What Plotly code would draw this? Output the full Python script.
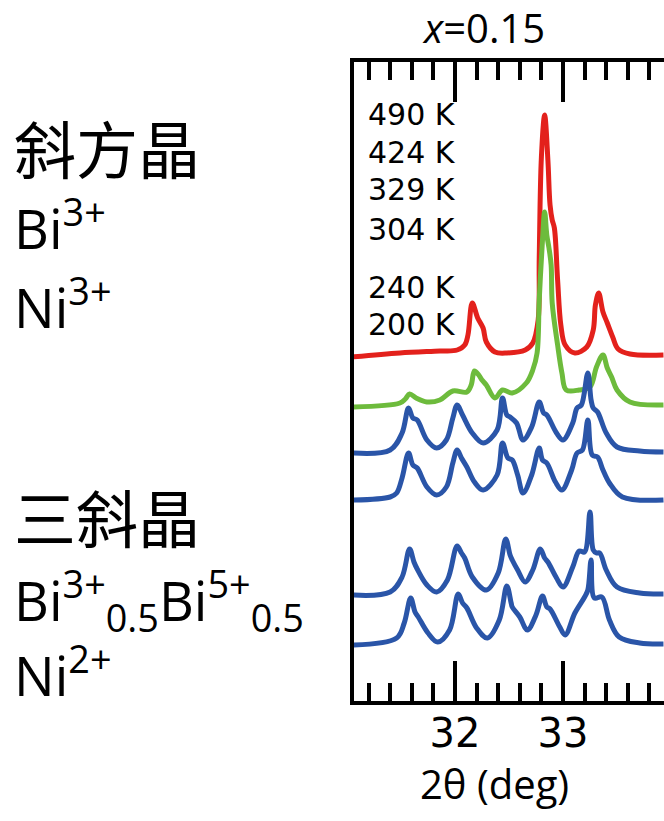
import plotly.graph_objects as go

# ---- data: 2theta (deg) and relative intensity (arb. units) ----
labels = ["490 K", "424 K", "329 K", "304 K", "240 K", "200 K"]
offsets = [346, 296, 250, 203, 108, 58]
colors = ["#e3211c", "#6dbb3c", "#2a55a8", "#2a55a8", "#2a55a8", "#2a55a8"]

tt_490 = [31.05, 31.49, 31.86, 32.02, 32.09, 32.12, 32.16, 32.21, 32.26, 32.29, 32.37, 32.48, 32.65,
          32.72, 32.77, 32.78, 32.80, 32.83, 32.86, 32.88, 32.90, 32.92, 32.95, 32.98, 33.02, 33.11,
          33.22, 33.28, 33.30, 33.33, 33.37, 33.41, 33.46, 33.51, 33.62, 33.93]
I_490 = [0, 4, 6, 7, 12, 22, 54, 39, 29, 15, 5, 4, 7,
         14, 37, 100, 200, 242, 197, 152, 137, 129, 77, 32, 12, 4,
         10, 27, 52, 64, 45, 34, 20, 8, 3, 2]

tt_424 = [31.05, 31.49, 31.54, 31.58, 31.64, 31.74, 31.86, 31.98, 32.11, 32.15, 32.18, 32.22, 32.25,
          32.29, 32.37, 32.44, 32.53, 32.66, 32.72, 32.76, 32.78, 32.81, 32.83, 32.85, 32.87, 32.89,
          32.90, 32.95, 32.99, 33.03, 33.15, 33.25, 33.31, 33.37, 33.41, 33.45, 33.50, 33.62, 33.93]
I_424 = [0, 4, 8, 13, 9, 5, 7, 16, 15, 22, 36, 32, 27,
         22, 9, 17, 14, 24, 37, 54, 107, 167, 195, 172, 159, 142,
         104, 62, 34, 17, 17, 20, 40, 52, 39, 30, 17, 5, 2]

tt_329 = [31.05, 31.40, 31.51, 31.57, 31.61, 31.65, 31.74, 31.83, 31.92, 31.98, 32.02, 32.07, 32.16,
          32.26, 32.39, 32.44, 32.48, 32.51, 32.57, 32.63, 32.71, 32.78, 32.82, 32.85, 32.94, 33.00,
          33.09, 33.13, 33.17, 33.23, 33.26, 33.28, 33.32, 33.40, 33.50, 33.71, 33.93]
I_329 = [0, 3, 20, 45, 35, 33, 13, 5, 13, 35, 48, 38, 20,
         10, 23, 55, 38, 36, 30, 13, 26, 51, 40, 38, 20, 13,
         30, 45, 48, 80, 53, 45, 41, 20, 6, 2, 1]

tt_304 = [31.05, 31.40, 31.46, 31.51, 31.57, 31.61, 31.65, 31.74, 31.83, 31.92, 31.98, 32.02, 32.06,
          32.11, 32.18, 32.26, 32.39, 32.44, 32.49, 32.53, 32.58, 32.63, 32.71, 32.78, 32.81, 32.85,
          32.93, 32.99, 33.08, 33.13, 33.18, 33.23, 33.27, 33.32, 33.37, 33.43, 33.55, 33.93]
I_304 = [0, 3, 7, 22, 47, 35, 32, 13, 5, 13, 37, 50, 42,
         33, 18, 10, 25, 57, 42, 40, 25, 7, 25, 52, 40, 37,
         18, 10, 30, 47, 50, 80, 45, 43, 30, 17, 3, 0]

tt_240 = [31.05, 31.40, 31.51, 31.58, 31.62, 31.65, 31.74, 31.83, 31.93, 32.02, 32.06, 32.09, 32.16,
          32.29, 32.40, 32.47, 32.51, 32.53, 32.58, 32.65, 32.72, 32.79, 32.83, 32.86, 32.94, 33.00,
          33.09, 33.15, 33.20, 33.25, 33.28, 33.31, 33.34, 33.40, 33.50, 33.71, 33.93]
I_240 = [0, 3, 18, 46, 33, 26, 10, 3, 15, 49, 42, 37, 18,
         5, 22, 56, 40, 35, 25, 13, 25, 46, 37, 33, 17, 8,
         28, 44, 43, 83, 45, 42, 42, 25, 8, 2, 1]

tt_200 = [31.05, 31.46, 31.53, 31.59, 31.63, 31.66, 31.75, 31.84, 31.95, 32.03, 32.07, 32.11, 32.20,
          32.30, 32.41, 32.48, 32.52, 32.53, 32.60, 32.67, 32.75, 32.81, 32.85, 32.88, 32.97, 33.02,
          33.11, 33.20, 33.23, 33.26, 33.29, 33.36, 33.43, 33.52, 33.71, 33.93]
I_200 = [0, 7, 22, 47, 33, 28, 12, 3, 15, 51, 42, 37, 17,
         7, 25, 59, 42, 38, 28, 15, 30, 49, 38, 36, 18, 10,
         32, 48, 55, 85, 47, 48, 25, 8, 2, 1]

series_tt = [tt_490, tt_424, tt_329, tt_304, tt_240, tt_200]
series_I = [I_490, I_424, I_329, I_304, I_240, I_200]

x_ticks = [32, 33]
x_range = [31.065, 33.935]
y_range = [2, 641]

W, H = 664, 821
fig = go.Figure()
for tt, I, off, col, lab in zip(series_tt, series_I, offsets, colors, labels):
    fig.add_trace(go.Scatter(
        x=tt, y=[v + off for v in I], mode="lines", name=lab,
        line=dict(color=col, width=5, shape="spline", smoothing=1.0),
        showlegend=False, hoverinfo="skip"))

fig.update_layout(
    width=W, height=H, margin=dict(l=0, r=0, t=0, b=0),
    paper_bgcolor="white", plot_bgcolor="white",
    xaxis=dict(domain=[354 / W, 1], range=x_range, tickvals=x_ticks,
               ticktext=[str(v) for v in x_ticks],
               ticks="inside", ticklen=40, tickwidth=4, tickcolor="black",
               showline=True, linewidth=4, linecolor="black", mirror="allticks",
               showgrid=False, zeroline=False, ticklabelstandoff=-6,
               minor=dict(dtick=0.2, tick0=32, ticks="inside", ticklen=18,
                          tickwidth=4, tickcolor="black", showgrid=False),
               tickfont=dict(family="DejaVu Sans", size=40, color="black")),
    yaxis=dict(domain=[(H - 701) / H, (H - 62) / H], range=y_range,
               showline=True, linewidth=4, linecolor="black", mirror=False,
               ticks="", showticklabels=False, showgrid=False, zeroline=False),
)

def px_x(p):
    return p / W

def px_y(p):
    return 1 - p / H

ann = []
# temperature labels
for lab, yc in zip(labels, [115, 153, 190, 230, 287, 324]):
    ann.append(dict(x=px_x(366), y=px_y(yc), text=lab, xanchor="left", yanchor="middle",
                    font=dict(family="DejaVu Sans", size=30, color="black")))
# title
ann.append(dict(x=px_x(483), y=px_y(28), text="<i>x</i>=0.15", xanchor="center", yanchor="middle",
                font=dict(family="Open Sans", size=40, color="black")))
# axis title
ann.append(dict(x=px_x(494), y=px_y(783), text="2θ (deg)", xanchor="center", yanchor="middle",
                font=dict(family="Open Sans", size=40, color="black")))
# left side phase texts
cjk = "Noto Sans CJK SC"
lat = "Open Sans"
left_texts = [
    ("斜方晶", 147, cjk, 62),
    ("Bi<sup>3+</sup>", 226, lat, 54),
    ("Ni<sup>3+</sup>", 304, lat, 54),
    ("三斜晶", 516, cjk, 62),
    ("Bi<sup>3+</sup><sub>0.5</sub>Bi<sup>5+</sup><sub>0.5</sub>", 600, lat, 54),
    ("Ni<sup>2+</sup>", 672, lat, 54),
]
for t, yc, fam, fs in left_texts:
    ann.append(dict(x=px_x(12), y=px_y(yc), text=t, xanchor="left", yanchor="middle",
                    font=dict(family=fam, size=fs, color="black")))
for a in ann:
    a.update(xref="paper", yref="paper", showarrow=False)
fig.update_layout(annotations=ann)

fig.write_html("out.html")
